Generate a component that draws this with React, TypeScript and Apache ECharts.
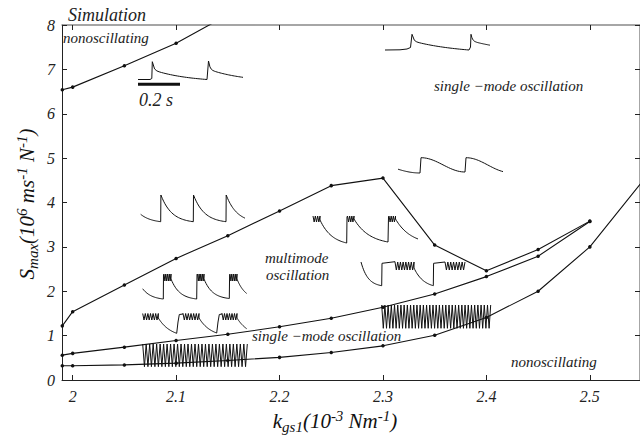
import React, { useEffect, useRef } from 'react';
import * as echarts from 'echarts';

// ---------- data ----------
const xTickValues = [2.0, 2.1, 2.2, 2.3, 2.4, 2.5];
const yTickValues = [0, 1, 2, 3, 4, 5, 6, 7, 8];

// upper boundary: nonoscillating / single-mode
const upperBoundX = [1.99, 2.0, 2.05, 2.1, 2.15];
const upperBoundY = [6.54, 6.6, 7.08, 7.59, 8.23];

// multimode region, upper boundary
const multiTopX = [1.99, 2.0, 2.05, 2.1, 2.15, 2.2, 2.25, 2.3, 2.35, 2.4, 2.45, 2.5];
const multiTopY = [1.22, 1.54, 2.14, 2.74, 3.25, 3.81, 4.38, 4.55, 3.04, 2.46, 2.94, 3.58];

// multimode region, lower boundary
const multiBotX = [1.99, 2.0, 2.05, 2.1, 2.15, 2.2, 2.25, 2.3, 2.35, 2.4, 2.45, 2.5];
const multiBotY = [0.56, 0.6, 0.74, 0.89, 1.03, 1.2, 1.39, 1.64, 1.94, 2.33, 2.79, 3.57];

// lower boundary: single-mode / nonoscillating
const lowBoundX = [1.99, 2.0, 2.05, 2.1, 2.15, 2.2, 2.25, 2.3, 2.35, 2.4, 2.45, 2.5, 2.55];
const lowBoundY = [0.32, 0.32, 0.34, 0.38, 0.44, 0.51, 0.62, 0.77, 1.01, 1.41, 2.0, 3.0, 4.45];

const X_MIN = 1.9897;
const X_MAX = 2.5485;

const FONT = "'Liberation Serif', 'Times New Roman', serif";
const INK = '#111';

// ---------- inset sketch helpers (decorative waveforms, pixel space) ----------
type Pt = [number, number];
function curve(x0: number, y0: number, x1: number, y1: number, f: (t: number) => number, tFrom = 0, tTo = 1, n = 24): Pt[] {
  const pts: Pt[] = [];
  for (let i = 0; i <= n; i++) {
    const t = tFrom + ((tTo - tFrom) * i) / n;
    pts.push([x0 + (x1 - x0) * t, y0 + (y1 - y0) * f(t)]);
  }
  return pts;
}
const expF = (k: number) => (t: number) => (1 - Math.exp(-k * t)) / (1 - Math.exp(-k));
const dropF = (a: number, ks: number) => (t: number) =>
  a * (1 - Math.exp(-40 * t)) + (1 - a) * ((1 - Math.exp(-ks * t)) / (1 - Math.exp(-ks)));
const easeF = (t: number) => (1 - Math.cos(Math.PI * t)) / 2;
function burst(x0: number, x1: number, yA: number, yB: number, cycles: number): Pt[] {
  const pts: Pt[] = [];
  const p = (x1 - x0) / cycles;
  for (let i = 0; i < cycles; i++) {
    pts.push([x0 + i * p, yA]);
    pts.push([x0 + (i + 0.5) * p, yB]);
  }
  pts.push([x1, yA]);
  return pts;
}

function buildInsets(): Pt[][] {
  const i1: Pt[] = [
    [138, 79.5], [150, 79.5], [151.8, 78.5], [152.3, 61.7],
    ...curve(152.3, 61.7, 207, 79.5, dropF(0.45, 1.5)),
    [208.5, 61],
    ...curve(208.5, 61, 263.2, 79.5, dropF(0.45, 1.5), 0, (243 - 208.5) / 54.7),
  ];
  const i2: Pt[] = [
    [385, 50], [400, 49.8], [407, 49], [410.5, 47.5], [412, 34.3],
    ...curve(412, 34.3, 469, 50, dropF(0.42, 1.2)),
    [470.5, 47], [471, 34.3],
    ...curve(471, 34.3, 528, 50, dropF(0.42, 1.2), 0, (490 - 471) / 57),
  ];
  const i3: Pt[] = [
    ...curve(354, 157.7, 420, 173, easeF, 44 / 66, 1),
    [421, 157.7],
    ...curve(421, 157.7, 465, 172, easeF),
    [466, 157.7],
    ...curve(466, 157.7, 510, 172.5, easeF, 0, (503 - 466) / 44),
  ];
  const i4: Pt[] = [
    ...curve(128, 195, 160.7, 221.7, expF(3), (140.7 - 128) / 32.7, 1),
    [160.9, 195],
    ...curve(160.9, 195, 193.3, 221.7, expF(3)),
    [193.5, 195],
    ...curve(193.5, 195, 226, 221.7, expF(3)),
    [226.2, 195],
    ...curve(226.2, 195, 258.7, 221.7, expF(3), 0, (245 - 226.2) / 32.5),
  ];
  const i5: Pt[] = [
    ...burst(313, 320, 216, 222, 3),
    ...curve(320, 220, 346.7, 243, expF(2.2)),
    [347, 217],
    ...burst(347.5, 354, 216, 222, 3),
    ...curve(354, 219, 388, 242, expF(2.2)),
    [388.5, 217],
    ...burst(389, 395.5, 216, 222, 3),
    ...curve(395.5, 219, 429, 242, expF(2.2), 0, (418 - 395.5) / 33.5),
  ];
  const i6: Pt[] = [
    ...curve(361, 262, 381.7, 285.7, expF(3)),
    [382, 263.3], [395, 261.7],
    ...burst(395, 414, 262, 270, 7),
    ...curve(414, 268, 433.3, 285.7, expF(2)),
    [433.6, 263.3], [445, 262],
    ...burst(445, 465, 262, 270, 7),
  ];
  const i7: Pt[] = [
    ...curve(137.3, 279, 163.3, 299, expF(3), (142.7 - 137.3) / 26, 1),
    [163.5, 274.5],
    ...burst(164, 171, 274, 281, 4),
    ...curve(171, 279, 196.7, 299, expF(3)),
    [197, 274.5],
    ...burst(197.5, 204, 274, 281, 4),
    ...curve(204, 279, 229.3, 298.5, expF(3)),
    [229.6, 274.5],
    ...burst(230, 237, 274, 281, 4),
    ...curve(237, 279, 262, 299, expF(3), 0, (246.7 - 237) / 25),
  ];
  const i8: Pt[] = [
    ...burst(142.7, 158.3, 313.5, 320, 6),
    ...curve(158.3, 318, 176.7, 333.3, expF(1.5)),
    [178, 322], [179.3, 314.5], [183, 314],
    ...burst(183, 199, 313.5, 320, 6),
    ...curve(199, 318, 216.7, 333, expF(1.5)),
    [218, 322], [219.3, 314.5], [222, 314],
    ...burst(222, 237, 313.5, 320, 6),
    ...curve(237, 318, 255, 333, expF(1.5), 0, (246.7 - 237) / 18),
  ];
  const i9: Pt[] = burst(142.7, 247.3, 344, 366.7, 30);
  const i10: Pt[] = burst(381.7, 490.7, 305, 328.3, 34);
  return [i1, i2, i3, i4, i5, i6, i7, i8, i9, i10];
}

const zip = (xs: number[], ys: number[]) => xs.map((x, i) => [x, ys[i]]);

function lineSeries(name: string, xs: number[], ys: number[]) {
  return {
    name,
    type: 'line',
    data: zip(xs, ys),
    symbol: 'circle',
    symbolSize: 3.5,
    showSymbol: true,
    clip: true,
    itemStyle: { color: INK },
    lineStyle: { color: INK, width: 1.1 },
    z: 3,
  };
}

function textEl(text: string, x: number, y: number, size: number, align = 'left') {
  return {
    type: 'text',
    x,
    y,
    z: 10,
    silent: true,
    style: {
      text,
      fontFamily: FONT,
      fontStyle: 'italic',
      fontSize: size,
      fill: '#222',
      align,
      verticalAlign: 'middle',
    },
  };
}

const richParts = {
  b: { fontFamily: FONT, fontStyle: 'italic', fontSize: 21, lineHeight: 26, fill: '#111' },
  sub: { fontFamily: FONT, fontStyle: 'italic', fontSize: 15, lineHeight: 14, verticalAlign: 'bottom', fill: '#111' },
  sup: { fontFamily: FONT, fontStyle: 'italic', fontSize: 15, lineHeight: 14, verticalAlign: 'top', fill: '#111' },
};

export default function App() {
  const ref = useRef<HTMLDivElement>(null);
  useEffect(() => {
    if (!ref.current) return;
    const chart = echarts.init(ref.current, null, { renderer: 'svg' });
    const insets = buildInsets();
    const graphics: any[] = insets.map((pts) => ({
      type: 'polyline',
      silent: true,
      z: 5,
      shape: { points: pts },
      style: { stroke: INK, fill: null, lineWidth: 1 },
    }));
    graphics.push({
      type: 'line',
      silent: true,
      z: 5,
      shape: { x1: 138, y1: 84.3, x2: 180, y2: 84.3 },
      style: { stroke: INK, lineWidth: 3 },
    });
    graphics.push(
      textEl('Simulation', 68, 15, 18),
      textEl('nonoscillating', 63, 38, 15),
      textEl('0.2 s', 139, 100, 18),
      textEl('single \u2212mode oscillation', 434, 86, 15),
      textEl('multimode', 265, 258, 15),
      textEl('oscillation', 266, 275, 15),
      textEl('single \u2212mode oscillation', 252, 336, 15),
      textEl('nonoscillating', 511, 362, 15)
    );
    graphics.push({
      type: 'text',
      x: 335,
      y: 421,
      z: 10,
      silent: true,
      style: {
        text: '{b|k}{sub|gs1}{b|(10}{sup|-3}{b| Nm}{sup|-1}{b|)}',
        rich: richParts,
        align: 'center',
        verticalAlign: 'middle',
      },
    });
    graphics.push({
      type: 'text',
      x: 27,
      y: 204,
      rotation: Math.PI / 2,
      z: 10,
      silent: true,
      style: {
        text: '{b|S}{sub|max}{b|(10}{sup|6}{b| ms}{sup|-1}{b| N}{sup|-1}{b|)}',
        rich: richParts,
        align: 'center',
        verticalAlign: 'middle',
      },
    });

    const labelStyle = {
      fontFamily: FONT,
      fontStyle: 'italic',
      fontSize: 16,
      color: '#222',
    };

    chart.setOption({
      animation: false,
      backgroundColor: '#fff',
      grid: { left: 62, right: -2, top: 25, bottom: 61, containLabel: false },
      xAxis: [
        {
          type: 'value',
          min: X_MIN,
          max: X_MAX,
          position: 'bottom',
          axisLine: { show: true, onZero: false, lineStyle: { color: '#222', width: 1 } },
          axisTick: { show: true, inside: true, length: 5, customValues: xTickValues, lineStyle: { color: '#222' } },
          axisLabel: { ...labelStyle, margin: 8, customValues: xTickValues, formatter: (v: number) => String(+v.toFixed(2)) },
          splitLine: { show: false },
        },
        {
          type: 'value',
          min: X_MIN,
          max: X_MAX,
          position: 'top',
          axisLine: { show: true, onZero: false, lineStyle: { color: '#888', width: 1.5 } },
          axisTick: { show: true, inside: true, length: 5, customValues: xTickValues, lineStyle: { color: '#222' } },
          axisLabel: { show: false },
          splitLine: { show: false },
        },
      ],
      yAxis: [
        {
          type: 'value',
          min: 0,
          max: 8,
          interval: 1,
          position: 'left',
          axisLine: { show: true, onZero: false, lineStyle: { color: '#222', width: 1 } },
          axisTick: { show: true, inside: true, length: 5, lineStyle: { color: '#222' } },
          axisLabel: { ...labelStyle, margin: 7, customValues: yTickValues },
          splitLine: { show: false },
        },
        {
          type: 'value',
          min: 0,
          max: 8,
          interval: 1,
          position: 'right',
          axisLine: { show: true, onZero: false, lineStyle: { color: '#888', width: 1.5 } },
          axisTick: { show: true, inside: true, length: 5, lineStyle: { color: '#222' } },
          axisLabel: { show: false },
          splitLine: { show: false },
        },
      ],
      series: [
        lineSeries('upper boundary', upperBoundX, upperBoundY),
        lineSeries('multimode upper', multiTopX, multiTopY),
        lineSeries('multimode lower', multiBotX, multiBotY),
        lineSeries('lower boundary', lowBoundX, lowBoundY),
      ],
      graphic: graphics,
    });
    return () => chart.dispose();
  }, []);
  return (
    <div
      ref={ref}
      style={{ position: 'fixed', left: 0, top: 0, width: 640, height: 441, background: '#fff' }}
    />
  );
}
